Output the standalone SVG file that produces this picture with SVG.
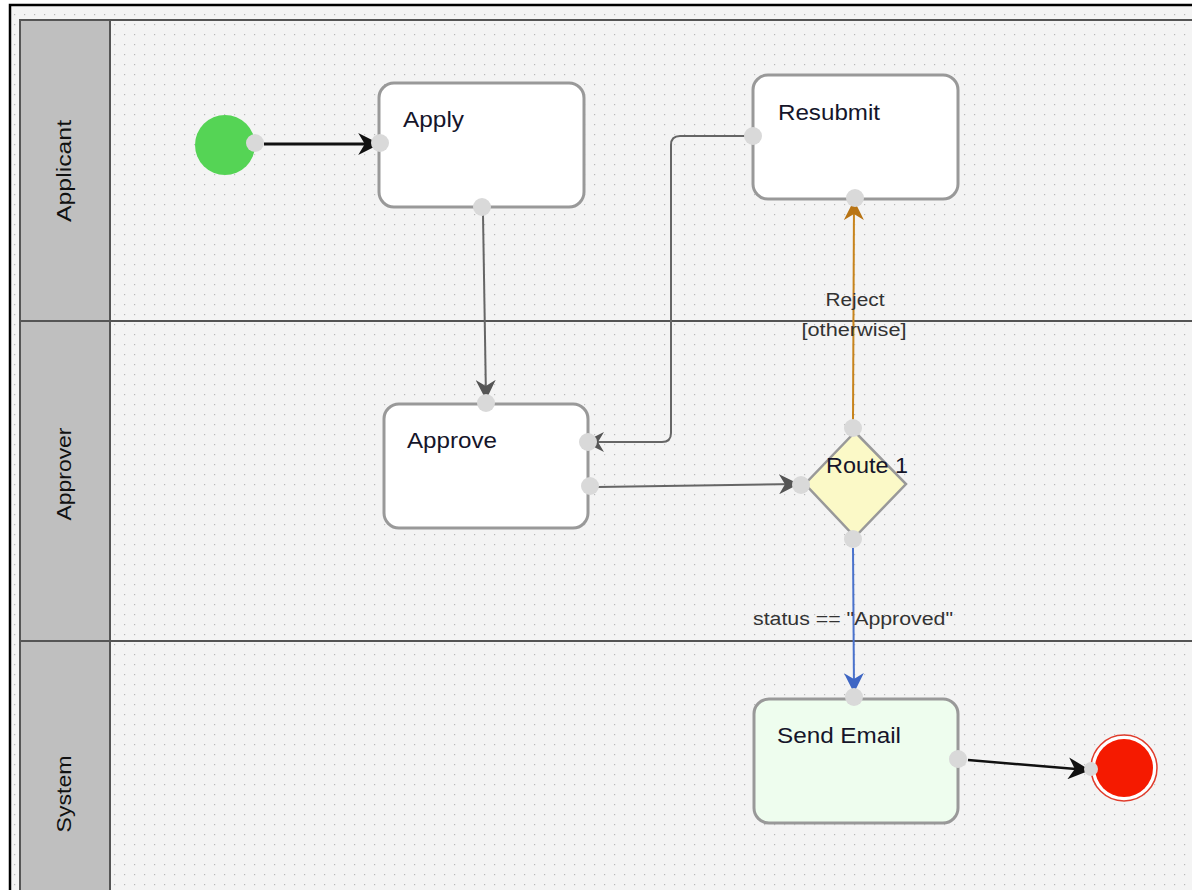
<svg xmlns="http://www.w3.org/2000/svg" width="1192" height="890" viewBox="0 0 1192 890">
<defs>
<pattern id="grid" x="0" y="0" width="10" height="10" patternUnits="userSpaceOnUse">
<rect x="4" y="4" width="1.2" height="1.2" fill="#b8b8b8"/>
</pattern>
<marker id="aBlackBig" viewBox="0 0 10 10" refX="9" refY="5" markerWidth="22" markerHeight="22" markerUnits="userSpaceOnUse" orient="auto">
<path d="M0,0 L10,5 L0,10 L3,5 Z" fill="#111"/>
</marker>
<marker id="aGray" viewBox="0 0 10 10" refX="9" refY="5" markerWidth="20" markerHeight="20" markerUnits="userSpaceOnUse" orient="auto">
<path d="M0,0 L10,5 L0,10 L3,5 Z" fill="#555"/>
</marker>
<marker id="aOrange" viewBox="0 0 10 10" refX="9" refY="5" markerWidth="20" markerHeight="20" markerUnits="userSpaceOnUse" orient="auto">
<path d="M0,0 L10,5 L0,10 L3,5 Z" fill="#b87414"/>
</marker>
<marker id="aBlue" viewBox="0 0 10 10" refX="9" refY="5" markerWidth="20" markerHeight="20" markerUnits="userSpaceOnUse" orient="auto">
<path d="M0,0 L10,5 L0,10 L3,5 Z" fill="#3e66c4"/>
</marker>
</defs>
<style>
.lanehead{fill:#bfbfbf;stroke:#555;stroke-width:2}
.lanebody{fill:none;stroke:#555;stroke-width:2}
.lanetext{font-family:"Liberation Sans",Arial,sans-serif;font-size:21px;fill:#111;text-anchor:middle}
.task{fill:#fff;stroke:#999;stroke-width:3}
.tasktext{font-family:"Liberation Sans",Arial,sans-serif;font-size:22px;fill:#15152a}
.port{fill:#d9d9d9}
.lbl{font-family:"Liberation Sans",Arial,sans-serif;font-size:18px;fill:#333;text-anchor:middle}
.conn{fill:none}
</style>
<rect x="0" y="0" width="1192" height="890" fill="#fff"/>
<rect x="10" y="5" width="1182" height="885" fill="#f4f4f4"/>
<rect x="10" y="5" width="1182" height="885" fill="url(#grid)"/>
<path d="M10,890 L10,5 L1192,5" fill="none" stroke="#000" stroke-width="2.5"/>

<g id="lanes">
<g id="lane-applicant">
<rect class="lanehead" x="20" y="20" width="90" height="301"/>
<line class="lanebody" x1="110" y1="20" x2="1192" y2="20"/>
<text class="lanetext" transform="translate(71,171) rotate(-90)" textLength="102" lengthAdjust="spacingAndGlyphs">Applicant</text>
</g>
<g id="lane-approver">
<rect class="lanehead" x="20" y="321" width="90" height="320"/>
<line class="lanebody" x1="110" y1="321" x2="1192" y2="321"/>
<text class="lanetext" transform="translate(71,474) rotate(-90)" textLength="93" lengthAdjust="spacingAndGlyphs">Approver</text>
</g>
<g id="lane-system">
<rect class="lanehead" x="20" y="641" width="90" height="255"/>
<line class="lanebody" x1="110" y1="641" x2="1192" y2="641"/>
<text class="lanetext" transform="translate(71,794) rotate(-90)" textLength="77" lengthAdjust="spacingAndGlyphs">System</text>
</g>
</g>

<g id="connectors">
<line class="conn" x1="264" y1="144" x2="378" y2="144" stroke="#111" stroke-width="3" marker-end="url(#aBlackBig)"/>
<line class="conn" x1="483" y1="215" x2="486" y2="398" stroke="#666" stroke-width="2" marker-end="url(#aGray)"/>
<path class="conn" d="M745,136 L680,136 Q671,136 671,145 L671,433 Q671,442 662,442 L586,442" stroke="#666" stroke-width="2" marker-end="url(#aGray)"/>
<line class="conn" x1="598" y1="487" x2="797" y2="484" stroke="#666" stroke-width="2" marker-end="url(#aGray)"/>
<line class="conn" x1="853" y1="420" x2="854" y2="202" stroke="#c8841c" stroke-width="2" marker-end="url(#aOrange)"/>
<line class="conn" x1="853" y1="548" x2="854" y2="691" stroke="#4a72cc" stroke-width="2" marker-end="url(#aBlue)"/>
<line class="conn" x1="968" y1="760" x2="1088" y2="770" stroke="#111" stroke-width="2.5" marker-end="url(#aBlackBig)"/>
<text class="lbl" x="855" y="306" textLength="59" lengthAdjust="spacingAndGlyphs">Reject</text>
<text class="lbl" x="854" y="336" textLength="105" lengthAdjust="spacingAndGlyphs">[otherwise]</text>
<text class="lbl" x="853" y="625" textLength="200" lengthAdjust="spacingAndGlyphs">status == "Approved"</text>
</g>

<g id="start">
<circle cx="225" cy="145" r="30" fill="#55d455"/>
<circle class="port" cx="255" cy="143" r="9"/>
</g>

<g id="apply">
<rect class="task" x="379" y="83" width="205" height="124" rx="15"/>
<text class="tasktext" x="403" y="127" textLength="61" lengthAdjust="spacingAndGlyphs">Apply</text>
<circle class="port" cx="380" cy="143" r="9"/>
<circle class="port" cx="482" cy="207" r="9"/>
</g>

<g id="resubmit">
<rect class="task" x="753" y="75" width="205" height="124" rx="15"/>
<text class="tasktext" x="778" y="120" textLength="102" lengthAdjust="spacingAndGlyphs">Resubmit</text>
<circle class="port" cx="753" cy="136" r="9"/>
<circle class="port" cx="855" cy="198" r="9"/>
</g>

<g id="approve">
<rect class="task" x="384" y="404" width="204" height="124" rx="15"/>
<text class="tasktext" x="407" y="448" textLength="90" lengthAdjust="spacingAndGlyphs">Approve</text>
<circle class="port" cx="486" cy="403" r="9"/>
<circle class="port" cx="588" cy="442" r="9"/>
<circle class="port" cx="590" cy="486" r="9"/>
</g>

<g id="route1">
<path d="M855,432 L906,484 L855,537 L805,484 Z" fill="#fbf9c7" stroke="#999" stroke-width="2.5"/>
<text class="tasktext" x="826" y="473" textLength="82" lengthAdjust="spacingAndGlyphs">Route 1</text>
<circle class="port" cx="853" cy="428" r="9"/>
<circle class="port" cx="801" cy="485" r="9"/>
<circle class="port" cx="853" cy="539" r="9"/>
</g>

<g id="sendemail">
<rect class="task" x="754" y="699" width="204" height="124" rx="15" style="fill:#eefdee"/>
<text class="tasktext" x="777" y="743" textLength="124" lengthAdjust="spacingAndGlyphs">Send Email</text>
<circle class="port" cx="854" cy="697" r="9"/>
<circle class="port" cx="958" cy="759" r="9"/>
</g>

<g id="end">
<circle cx="1124" cy="768" r="33" fill="#fff" stroke="#e03c2c" stroke-width="1.5"/>
<circle cx="1124" cy="768" r="29" fill="#f51a00"/>
<circle class="port" cx="1091" cy="769" r="7"/>
</g>
</svg>
